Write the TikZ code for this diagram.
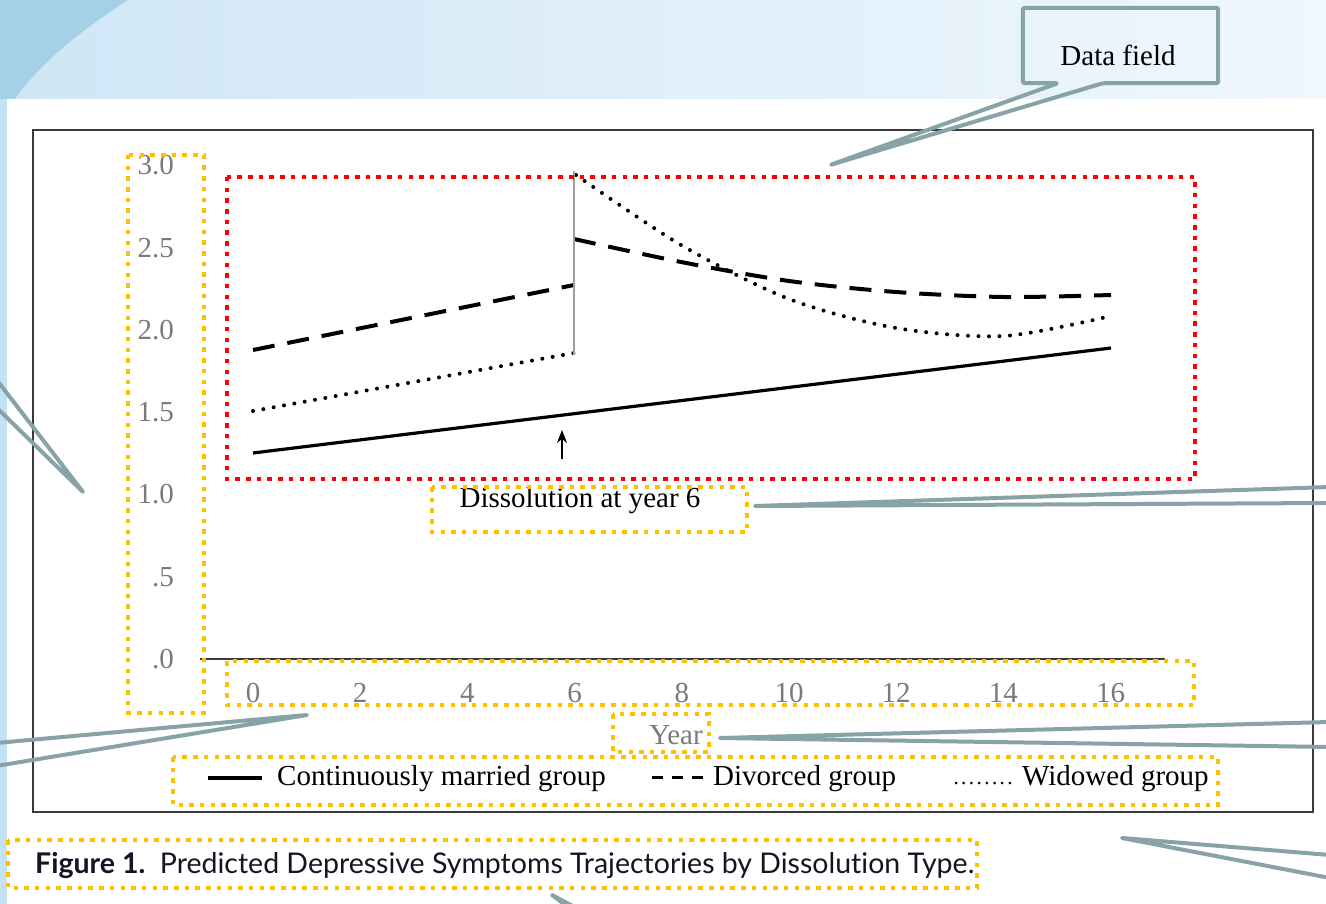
\documentclass[tikz,border=0pt]{standalone}
\usepackage{fontspec}
\setmainfont{Liberation Serif}
\newfontfamily\capfont[Ligatures=NoCommon]{Lato}
\usetikzlibrary{arrows.meta}
\definecolor{bandL}{HTML}{CFE6F6}
\definecolor{bandR}{HTML}{F0F7FD}
\definecolor{arcblue}{HTML}{A6D0E6}
\definecolor{stripblue}{HTML}{C4E2F6}
\definecolor{callgray}{HTML}{87A3A6}
\definecolor{ybox}{HTML}{FFC000}
\definecolor{rbox}{HTML}{FF0000}
\definecolor{labgray}{HTML}{7A7A7A}
\definecolor{framegray}{HTML}{3A3A3A}
\definecolor{capcol}{HTML}{141424}
\tikzset{
  callline/.style={draw=callgray,line width=4pt,line cap=round,line join=round},
  yframe/.style={draw=ybox,line width=4pt,dash pattern=on 4.5pt off 6.2pt},
  rframe/.style={draw=rbox,line width=4pt,dash pattern=on 4.5pt off 6.2pt},
  serif/.style={font=\fontsize{29}{32}\selectfont,inner sep=0pt},
  axlab/.style={serif,text=labgray},
  solidln/.style={line width=3.2pt,black},
  dashln/.style={line width=4pt,black,dash pattern=on 22pt off 13pt},
  dotln/.style={line width=4pt,black,line cap=round,dash pattern=on 0pt off 10.5pt},
}
\begin{document}
\begin{tikzpicture}[x=1pt,y=-1pt]
\useasboundingbox (0,0) rectangle (1326,904);
% background
\shade[left color=bandL,right color=bandR] (0,0) rectangle (1326,99);
\fill[arcblue] (0,0) -- (128,0) .. controls (82,30) and (30,68) .. (0,122) -- cycle;
\fill[stripblue] (0,99) rectangle (7,904);
\fill[white] (7,99) rectangle (1326,904);
% chart frame
\draw[framegray,line width=2pt] (33,130) rectangle (1313,812);
% axis
\draw[framegray,line width=1.2pt] (200,659) -- (1165,659);
% y labels
\node[axlab,anchor=east] (y30) at (174,165) {3.0};
\node[axlab,anchor=east] (y25) at (174,248) {2.5};
\node[axlab,anchor=east] (y20) at (174,330) {2.0};
\node[axlab,anchor=east] (y15) at (174,412) {1.5};
\node[axlab,anchor=east] (y10) at (174,494) {1.0};
\node[axlab,anchor=east] (y05) at (174,577) {.5};
\node[axlab,anchor=east] (y00) at (174,659) {.0};
% x labels
\foreach \t/\lab in {0/0,2/2,4/4,6/6,8/8,10/10,12/12,14/14,16/16}
  \node[axlab] (x\t) at ({253+53.6*\t},693) {\lab};
\node[axlab] (year) at (676,735) {Year};
% data lines
\draw[solidln] (253,453) -- (1111,348);
\draw[dashln] (253,350) -- (574,285);
\draw[dashln] plot[smooth,tension=0.5] coordinates {(574,239) (681,262) (789,281) (896,292) (1004,297) (1111,295)};
\draw[dotln] (253,411) -- (574,353);
\draw[dotln] plot[smooth,tension=0.5] coordinates {(576,175) (681,245) (789,299) (896,328) (1004,336) (1111,316)};
\draw[gray!75,line width=1.6pt] (574,171) -- (574,355);
\coordinate (arrt) at (562,459);
\coordinate (arrh) at (562,430);
\draw[line width=1.2pt,-{Stealth[length=13pt,width=10pt]}] (arrt) -- (arrh);
\node[serif] (diss) at (580,501) {Dissolution at year 6};
% legend
\coordinate (l1a) at (208,778); \coordinate (l1b) at (262,778);
\draw[solidln] (l1a) -- (l1b);
\node[serif,anchor=west] (leg1) at (277,779) {Continuously married group};
\coordinate (l2a) at (652,777); \coordinate (l2b) at (712,777);
\draw[line width=3pt,dash pattern=on 11pt off 9pt] (l2a) -- (l2b);
\node[serif,anchor=west] (leg2) at (713,779) {Divorced group};
\coordinate (l3a) at (956,783); \coordinate (l3b) at (1010,783);
\draw[line width=3pt,line cap=round,dash pattern=on 0pt off 7.7pt] (l3a) -- (l3b);
\node[serif,anchor=west] (leg3) at (1022,779) {Widowed group};
% caption
\node[anchor=west,inner sep=0pt,text=capcol,font=\capfont\fontsize{28.5}{31}\selectfont] (cap) at (35,866) {\textbf{Figure 1.}\ \ Predicted Depressive Symptoms Trajectories by Dissolution Type.};
% highlight frames
\draw[rframe] (227,177) rectangle (1195,479);
\draw[yframe] (128,155) rectangle (204,713);
\draw[yframe] (227,661) rectangle (1194,705);
\draw[yframe] (432,487) rectangle (747,532);
\draw[yframe] (613,714) rectangle (709,752);
\draw[yframe] (173,757) rectangle (1218,805);
\draw[yframe] (8,840) rectangle (977,888);
% Data field callout
\node[inner sep=0pt,minimum width=195pt,minimum height=75pt] (df) at (1120.5,45.5) {};
\node[inner sep=0pt,font=\fontsize{29}{32}\selectfont] (dftext) at (1118,55) {Data field};
\coordinate (dftip) at (830,165);
\draw[callline,rounded corners=2pt] ([xshift=35pt]df.south west) -- (df.south west) -- (df.north west) -- (df.north east) -- (df.south east) -- ([xshift=80pt]df.south west) -- (dftip) -- cycle;
% off-picture callout pointers
\coordinate (tA) at (83,492); \coordinate (a1) at (-4,379); \coordinate (a2) at (-4,407);
\draw[callline] (a1) -- (tA) -- (a2);
\coordinate (tB) at (307,715); \coordinate (b1) at (-4,743); \coordinate (b2) at (-4,766);
\draw[callline] (b1) -- (tB) -- (b2);
\coordinate (tC) at (755,506); \coordinate (c1) at (1330,487); \coordinate (c2) at (1330,503);
\draw[callline] (c1) -- (tC) -- (c2);
\coordinate (tD) at (720,738); \coordinate (d1) at (1330,722); \coordinate (d2) at (1330,747);
\draw[callline] (d1) -- (tD) -- (d2);
\coordinate (tE) at (1122,838); \coordinate (e1) at (1330,855); \coordinate (e2) at (1330,878);
\draw[callline] (e1) -- (tE) -- (e2);
\coordinate (tF) at (552,895); \coordinate (f1) at (580,910); \coordinate (f2) at (572,910);
\draw[callline] (f1) -- (tF) -- (f2);
\end{tikzpicture}
\end{document}
